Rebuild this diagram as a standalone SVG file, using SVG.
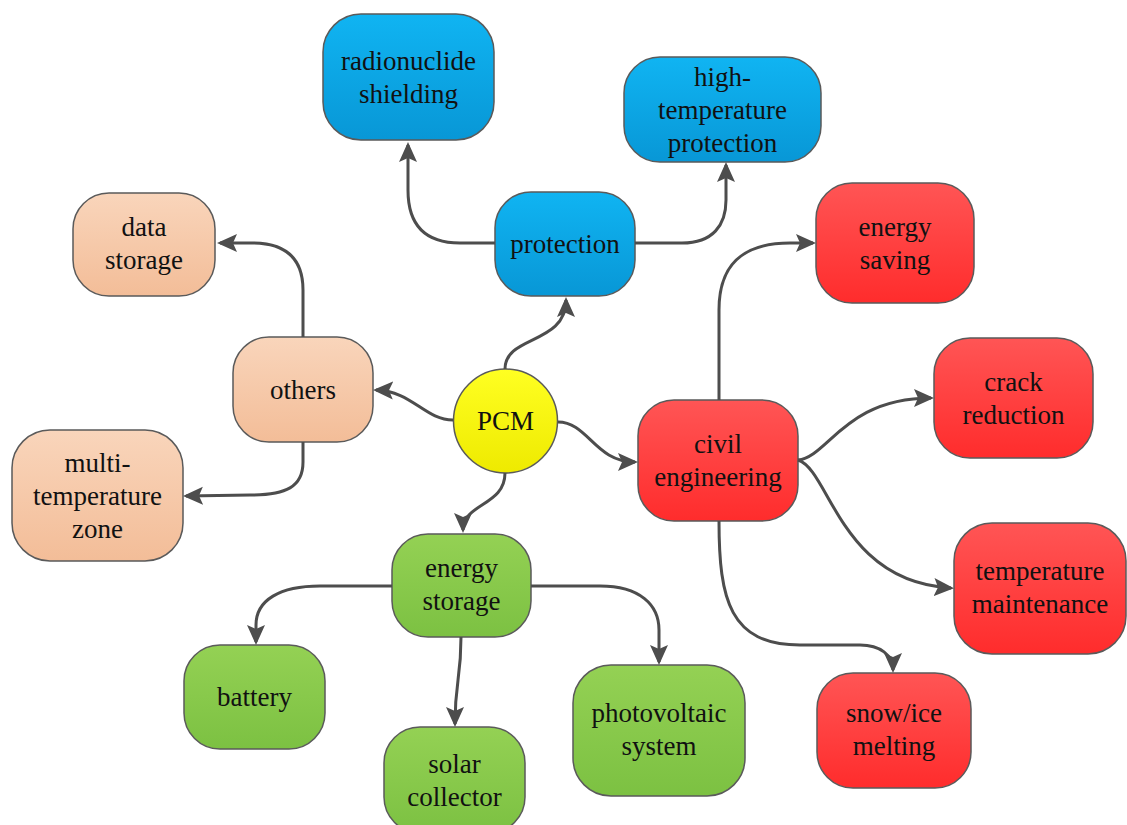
<svg xmlns="http://www.w3.org/2000/svg" width="1127" height="825" viewBox="0 0 1127 825">
<style>
.box{stroke:#5a5a5a;stroke-width:1.5}
.blue{fill:url(#gBlue)}
.red{fill:url(#gRed)}
.green{fill:url(#gGreen)}
.peach{fill:url(#gPeach)}
.yellow{fill:url(#gYellow)}
text{font-family:'Liberation Serif','Tinos','DejaVu Serif',serif;font-size:27px;fill:#111;text-anchor:middle}
.conn path{fill:none;stroke:#4d4d4d;stroke-width:3;marker-end:url(#arr)}
</style>
<defs>
<linearGradient id="gBlue" x1="0" y1="0" x2="0" y2="1"><stop offset="0" stop-color="#10b4f2"/><stop offset="1" stop-color="#0897d6"/></linearGradient>
<linearGradient id="gRed" x1="0" y1="0" x2="0" y2="1"><stop offset="0" stop-color="#ff5555"/><stop offset="1" stop-color="#ff2c2c"/></linearGradient>
<linearGradient id="gGreen" x1="0" y1="0" x2="0" y2="1"><stop offset="0" stop-color="#94d154"/><stop offset="1" stop-color="#7cc142"/></linearGradient>
<linearGradient id="gPeach" x1="0" y1="0" x2="0" y2="1"><stop offset="0" stop-color="#f9d5bb"/><stop offset="1" stop-color="#f3bd98"/></linearGradient>
<linearGradient id="gYellow" x1="0" y1="0" x2="0" y2="1"><stop offset="0" stop-color="#ffff22"/><stop offset="1" stop-color="#eeea00"/></linearGradient>
<marker id="arr" markerUnits="userSpaceOnUse" viewBox="0 0 20 20" markerWidth="20" markerHeight="20" refX="17" refY="10" orient="auto">
<path d="M0,1 L20,10 L0,19 L4,10 z" fill="#4d4d4d"/>
</marker>
</defs>
<rect width="1127" height="825" fill="#ffffff"/>

<g font-family="Liberation Serif, DejaVu Serif, serif">
<g id="radionuclide"><rect class="box blue" x="323" y="14" width="171" height="126" rx="38"/><text x="408.5" y="69.5">radionuclide</text><text x="408.5" y="102.5">shielding</text></g>
<g id="hightemp"><rect class="box blue" x="624" y="57" width="197" height="105" rx="36"/><text x="722.5" y="85.5">high-</text><text x="722.5" y="118.5">temperature</text><text x="722.5" y="151.5">protection</text></g>
<g id="protection"><rect class="box blue" x="495" y="192" width="140" height="104" rx="36"/><text x="565" y="253">protection</text></g>
<g id="energysaving"><rect class="box red" x="816" y="183" width="158" height="120" rx="36"/><text x="895" y="235.5">energy</text><text x="895" y="268.5">saving</text></g>
<g id="datastorage"><rect class="box peach" x="73" y="193" width="142" height="103" rx="36"/><text x="144" y="236">data</text><text x="144" y="269">storage</text></g>
<g id="others"><rect class="box peach" x="233" y="337" width="140" height="105" rx="36"/><text x="303" y="398.5">others</text></g>
<g id="pcm"><circle class="box yellow" cx="505.5" cy="421" r="52"/><text x="505.5" y="430">PCM</text></g>
<g id="civil"><rect class="box red" x="638" y="400" width="160" height="121" rx="36"/><text x="718" y="453">civil</text><text x="718" y="486">engineering</text></g>
<g id="crack"><rect class="box red" x="934" y="338" width="159" height="120" rx="36"/><text x="1013.5" y="390.5">crack</text><text x="1013.5" y="423.5">reduction</text></g>
<g id="multitemp"><rect class="box peach" x="12" y="430" width="171" height="131" rx="38"/><text x="97.5" y="471.5">multi-</text><text x="97.5" y="504.5">temperature</text><text x="97.5" y="537.5">zone</text></g>
<g id="tempmaint"><rect class="box red" x="954" y="523" width="172" height="131" rx="38"/><text x="1040" y="580">temperature</text><text x="1040" y="613">maintenance</text></g>
<g id="energystorage"><rect class="box green" x="392" y="534" width="139" height="103" rx="36"/><text x="461.5" y="577">energy</text><text x="461.5" y="610">storage</text></g>
<g id="battery"><rect class="box green" x="184" y="645" width="141" height="104" rx="36"/><text x="254.5" y="706">battery</text></g>
<g id="solar"><rect class="box green" x="384" y="727" width="141" height="106" rx="36"/><text x="454.5" y="773">solar</text><text x="454.5" y="806">collector</text></g>
<g id="photovoltaic"><rect class="box green" x="573" y="665" width="172" height="131" rx="38"/><text x="659" y="722">photovoltaic</text><text x="659" y="755">system</text></g>
<g id="snow"><rect class="box red" x="817" y="673" width="154" height="115" rx="36"/><text x="894" y="722">snow/ice</text><text x="894" y="755">melting</text></g>
</g>

<g id="connectors" class="conn">
<path d="M505,369 C505,335 566,345 566,300"/>
<path d="M453,420 C425,420 412,391 376,390"/>
<path d="M558,422 C588,422 595,462 635,462"/>
<path d="M505,473 C505,506 463,503 463,530"/>
<path d="M495,243 L460,243 C425,243 408,225 408,190 L408,145"/>
<path d="M635,243 L682,243 C713,243 726,225 726,200 L726,165"/>
<path d="M303,337 L303,290 C303,259 286,243 252,243 L220,243"/>
<path d="M303,442 L303,462 C303,487 286,495 250,495 L186,496"/>
<path d="M719,400 L719,310 C719,265 742,243 790,243 L813,243"/>
<path d="M798,460 C828,457 845,398 931,398"/>
<path d="M798,460 C830,470 840,582 951,588"/>
<path d="M719,521 C719,600 730,645 800,645 L860,645 C880,645 893,655 893,670"/>
<path d="M392,586 L320,586 C280,586 256,600 256,625 L256,642"/>
<path d="M461,637 C461,680 455,680 455,724"/>
<path d="M531,586 L600,586 C640,586 659,605 659,630 L659,662"/>
</g>
</svg>
